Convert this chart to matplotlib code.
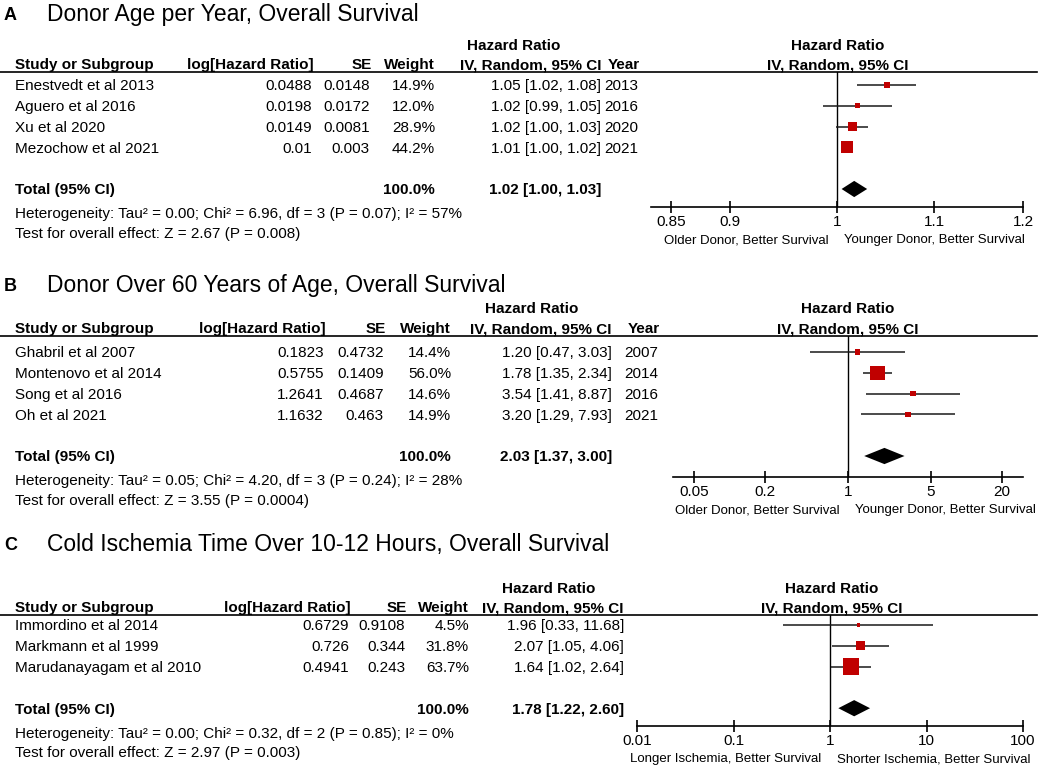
import numpy as np
import matplotlib
matplotlib.use("Agg")
from matplotlib import pyplot as plt
from matplotlib import transforms
from matplotlib.lines import Line2D
from matplotlib.ticker import NullLocator

plt.rcParams['font.family'] = ['Liberation Sans', 'DejaVu Sans']

# ---- data, panel A ----
a_title = "Donor Age per Year, Overall Survival"
a_studies = ["Enestvedt et al 2013", "Aguero et al 2016", "Xu et al 2020", "Mezochow et al 2021"]
a_loghr = [0.0488, 0.0198, 0.0149, 0.01]
a_se = [0.0148, 0.0172, 0.0081, 0.003]
a_weight = [14.9, 12.0, 28.9, 44.2]
a_ci_lbl = ["1.05 [1.02, 1.08]", "1.02 [0.99, 1.05]", "1.02 [1.00, 1.03]", "1.01 [1.00, 1.02]"]
a_year = ["2013", "2016", "2020", "2021"]
a_total = [1.017, 1.0045, 1.030]
a_total_lbl = "1.02 [1.00, 1.03]"
a_het = "Heterogeneity: Tau² = 0.00; Chi² = 6.96, df = 3 (P = 0.07); I² = 57%"
a_test = "Test for overall effect: Z = 2.67 (P = 0.008)"
a_ticks = [0.85, 0.9, 1, 1.1, 1.2]
a_ticklbl = ["0.85", "0.9", "1", "1.1", "1.2"]
a_side = ["Older Donor, Better Survival", "Younger Donor, Better Survival"]

# ---- data, panel B ----
b_title = "Donor Over 60 Years of Age, Overall Survival"
b_studies = ["Ghabril et al 2007", "Montenovo et al 2014", "Song et al 2016", "Oh et al 2021"]
b_loghr = [0.1823, 0.5755, 1.2641, 1.1632]
b_se = [0.4732, 0.1409, 0.4687, 0.463]
b_weight = [14.4, 56.0, 14.6, 14.9]
b_ci_lbl = ["1.20 [0.47, 3.03]", "1.78 [1.35, 2.34]", "3.54 [1.41, 8.87]", "3.20 [1.29, 7.93]"]
b_year = ["2007", "2014", "2016", "2021"]
b_total = [2.03, 1.37, 3.00]
b_total_lbl = "2.03 [1.37, 3.00]"
b_het = "Heterogeneity: Tau² = 0.05; Chi² = 4.20, df = 3 (P = 0.24); I² = 28%"
b_test = "Test for overall effect: Z = 3.55 (P = 0.0004)"
b_ticks = [0.05, 0.2, 1, 5, 20]
b_ticklbl = ["0.05", "0.2", "1", "5", "20"]
b_side = ["Older Donor, Better Survival", "Younger Donor, Better Survival"]

# ---- data, panel C ----
c_title = "Cold Ischemia Time Over 10-12 Hours, Overall Survival"
c_studies = ["Immordino et al 2014", "Markmann et al 1999", "Marudanayagam et al 2010"]
c_loghr = [0.6729, 0.726, 0.4941]
c_se = [0.9108, 0.344, 0.243]
c_weight = [4.5, 31.8, 63.7]
c_ci_lbl = ["1.96 [0.33, 11.68]", "2.07 [1.05, 4.06]", "1.64 [1.02, 2.64]"]
c_year = None
c_total = [1.78, 1.22, 2.60]
c_total_lbl = "1.78 [1.22, 2.60]"
c_het = "Heterogeneity: Tau² = 0.00; Chi² = 0.32, df = 2 (P = 0.85); I² = 0%"
c_test = "Test for overall effect: Z = 2.97 (P = 0.003)"
c_ticks = [0.01, 0.1, 1, 10, 100]
c_ticklbl = ["0.01", "0.1", "1", "10", "100"]
c_side = ["Longer Ischemia, Better Survival", "Shorter Ischemia, Better Survival"]

W, H = 1040, 771
SP = 20.8          # row spacing in px
RED = '#c00000'

fig = plt.figure(figsize=(W / 100, H / 100), dpi=100)


def fx(px):
    return px / W


def fy(py):
    return 1 - py / H


def panel(letter, title, studies, loghr, se, weight, ci_lbl, year, total, total_lbl,
          het, test, ticks, ticklbl, side, xlim, lay):
    n = len(studies)
    # title
    fig.text(fx(4), fy(lay['title']), letter, fontsize=13, fontweight='bold', va='baseline')
    fig.text(fx(47), fy(lay['title'] + 1), title, fontsize=16.5, va='baseline')

    # forest axes
    x0, x1 = lay['x0'], lay['x1']
    top, bot, row0 = lay['line'], lay['axis'], lay['row0']
    ax = fig.add_axes([fx(x0), fy(bot), (x1 - x0) / W, (bot - top) / H])
    ax.set_xscale('log')
    ax.set_xlim(*xlim)
    ax.set_ylim((bot - row0) / SP, (top - row0) / SP)
    ax.patch.set_alpha(0)
    for s in ['top', 'left', 'right']:
        ax.spines[s].set_visible(False)
    ax.spines['bottom'].set_linewidth(1.2)
    ax.set_yticks([])
    ax.set_xticks(ticks, ticklbl)
    ax.xaxis.set_minor_locator(NullLocator())
    ax.tick_params(axis='x', direction='inout', length=9, width=1.2, labelsize=11, pad=1)
    ax.axvline(1, color='black', lw=1.0)

    rows = np.arange(n)
    lr = np.array(loghr)
    sv = np.array(se)
    hr = np.exp(lr)
    lo = np.exp(lr - 1.96 * sv)
    hi = np.exp(lr + 1.96 * sv)
    ax.hlines(rows, lo, hi, color='#1a1a1a', lw=1.1, zorder=2)
    side_pt = (2.4 + 0.217 * np.array(weight)) * 0.72
    ax.scatter(hr, rows, marker='s', s=side_pt ** 2, color=RED, linewidths=0, zorder=3)

    # pooled diamond
    ty = n + 1
    dh = 0.39
    ax.fill([total[1], total[0], total[2], total[0]], [ty, ty - dh, ty, ty + dh],
            color='black', lw=0, zorder=3)

    # side labels
    ax.annotate(side[0], xy=(1, 0), xycoords=('data', 'axes fraction'),
                xytext=(-6, -24), textcoords='offset points', ha='right', va='center',
                fontsize=9.5)
    ax.annotate(side[1], xy=(1, 0), xycoords=('data', 'axes fraction'),
                xytext=(5, -24), textcoords='offset points', ha='left', va='center',
                fontsize=9.5)

    # header line across the whole width
    fig.add_artist(Line2D([0, fx(1037)], [fy(top), fy(top)], color='black', lw=1.2))

    # table text
    tr = transforms.blended_transform_factory(fig.transFigure, ax.transData)
    off = 5.4 / SP

    def put(xpx, row, s, ha='right', bold=False):
        ax.text(fx(xpx), row + off, s, transform=tr, ha=ha, va='baseline', fontsize=11,
                fontweight='bold' if bold else 'normal', clip_on=False)

    c = lay['cols']
    hrow = (lay['hdr'] - row0) / SP
    hrow0 = (lay['hdr0'] - row0) / SP
    put(15, hrow, "Study or Subgroup", ha='left', bold=True)
    put(c['log'], hrow, "log[Hazard Ratio]", bold=True)
    put(c['se'], hrow, "SE", bold=True)
    put(c['w'], hrow, "Weight", bold=True)
    put(c['ci'], hrow, "IV, Random, 95% CI", bold=True)
    put(c['hr'], hrow0, "Hazard Ratio", ha='center', bold=True)
    if year is not None:
        put(c['yr'], hrow, "Year", bold=True)
    put(lay['fx'], hrow0, "Hazard Ratio", ha='center', bold=True)
    put(lay['fx'], hrow, "IV, Random, 95% CI", ha='center', bold=True)

    for i in range(n):
        put(15, i, studies[i], ha='left')
        put(c['log'] - 2, i, '%g' % loghr[i])
        put(c['se'] - 2, i, '%g' % se[i])
        put(c['w'], i, '%.1f%%' % weight[i])
        put(c['ci'], i, ci_lbl[i])
        if year is not None:
            put(c['yr'] - 2, i, year[i])
    put(15, ty, "Total (95% CI)", ha='left', bold=True)
    put(c['w'], ty, "100.0%", bold=True)
    put(c['ci'], ty, total_lbl, bold=True)
    put(15, ty + 1.15, het, ha='left')
    put(15, ty + 2.1, test, ha='left')
    return ax


panel('A', a_title, a_studies, a_loghr, a_se, a_weight, a_ci_lbl, a_year, a_total,
      a_total_lbl, a_het, a_test, a_ticks, a_ticklbl, a_side, (1 / 1.2, 1.2),
      dict(title=20, line=72, hdr0=45, hdr=64, row0=85, axis=207, x0=651, x1=1023, fx=838,
           cols=dict(log=314, se=372, w=435, ci=601, hr=514, yr=640)))

panel('B', b_title, b_studies, b_loghr, b_se, b_weight, b_ci_lbl, b_year, b_total,
      b_total_lbl, b_het, b_test, b_ticks, b_ticklbl, b_side, (1 / 30, 30),
      dict(title=291, line=336, hdr0=308, hdr=328, row0=352, axis=477, x0=673, x1=1023, fx=848,
           cols=dict(log=326, se=386, w=451, ci=612, hr=532, yr=660)))

panel('C', c_title, c_studies, c_loghr, c_se, c_weight, c_ci_lbl, c_year, c_total,
      c_total_lbl, c_het, c_test, c_ticks, c_ticklbl, c_side, (0.01, 100),
      dict(title=550, line=615, hdr0=588, hdr=607, row0=625, axis=726, x0=637, x1=1023, fx=832,
           cols=dict(log=351, se=407, w=469, ci=624, hr=549, yr=None)))

fig.savefig('out.png', dpi=100)
